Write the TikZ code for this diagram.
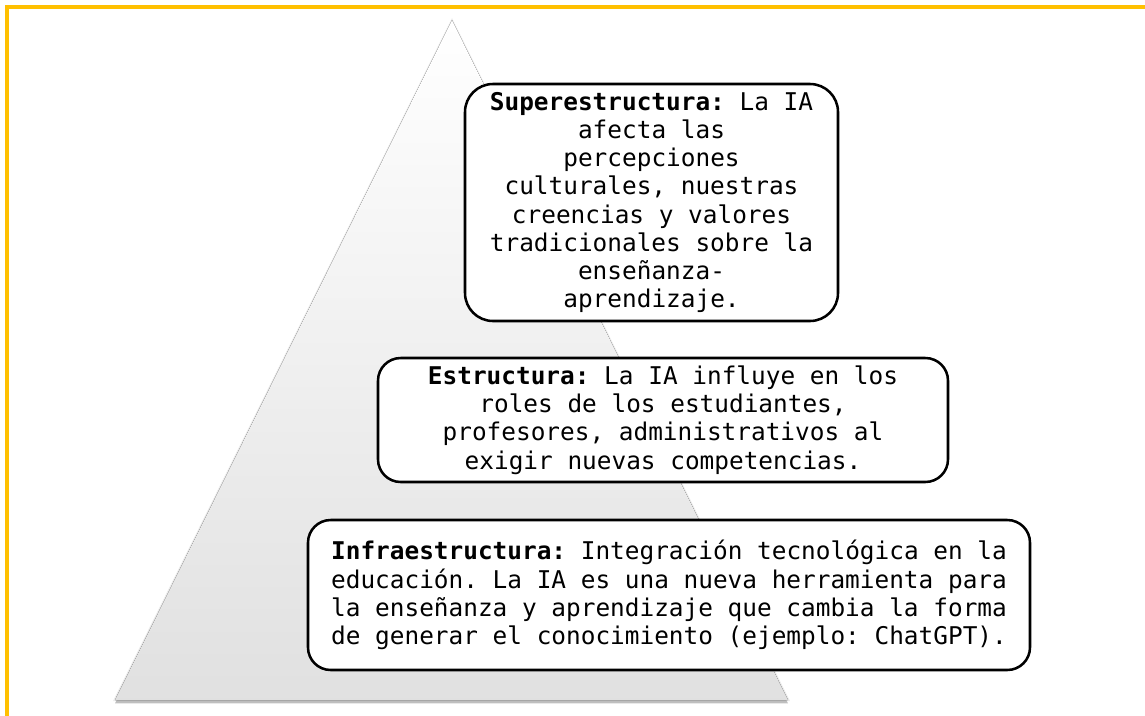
\documentclass[tikz,border=0pt]{standalone}
\usepackage{fontspec}
\setmonofont{DejaVu Sans Mono}
\usetikzlibrary{shadows}
\definecolor{marco}{HTML}{FFC000}
\tikzset{nivel/.style={draw, line width=1.9pt, rounded corners=17pt, fill=white,
  align=center, inner sep=0pt, font=\ttfamily\fontsize{18.3}{21.2}\selectfont}}

\begin{document}
\begin{tikzpicture}[x=0.75pt,y=-0.75pt]
%marco = 1145 x 715 px
\useasboundingbox (0,0) rectangle (1145,715);
\clip (0,0) rectangle (1145,715);
\draw [marco, line width=2.6pt] (7,7) rectangle (1170,740);

%piramide
\pgfmathsetmacro{\ax}{452}
\pgfmathsetmacro{\ay}{20}
\pgfmathsetmacro{\b}{700}
\fill [black!8] (\ax,\ay-2) -- (790,\b+1) -- (113,\b+1) -- cycle;
\fill [top color=white, bottom color=black!12,
  drop shadow={shadow xshift=0pt, shadow yshift=-2.5pt, opacity=0.5}]
  (\ax,\ay) -- (788,\b) -- (115,\b) -- cycle;

%niveles
\node [nivel, rounded corners=21pt, minimum width={373*0.75pt}, minimum height={237*0.75pt}]
  (super) at (651.5,202.5) {\textbf{Superestructura:} La IA\\afecta las\\percepciones\\culturales, nuestras\\creencias y valores\\tradicionales sobre la\\enseñanza-\\aprendizaje.};
\node [nivel, minimum width={570*0.75pt}, minimum height={124*0.75pt}]
  (estr) at (663,420) {\textbf{Estructura:} La IA influye en los\\roles de los estudiantes,\\profesores, administrativos al\\exigir nuevas competencias.};
\node [nivel, align=left, minimum width={722*0.75pt}, minimum height={150*0.75pt}]
  (infra) at (669,595) {\textbf{Infraestructura:} Integración tecnológica en la\\educación. La IA es una nueva herramienta para\\la enseñanza y aprendizaje que cambia la forma\\de generar el conocimiento (ejemplo: ChatGPT).};
\end{tikzpicture}
\end{document}
